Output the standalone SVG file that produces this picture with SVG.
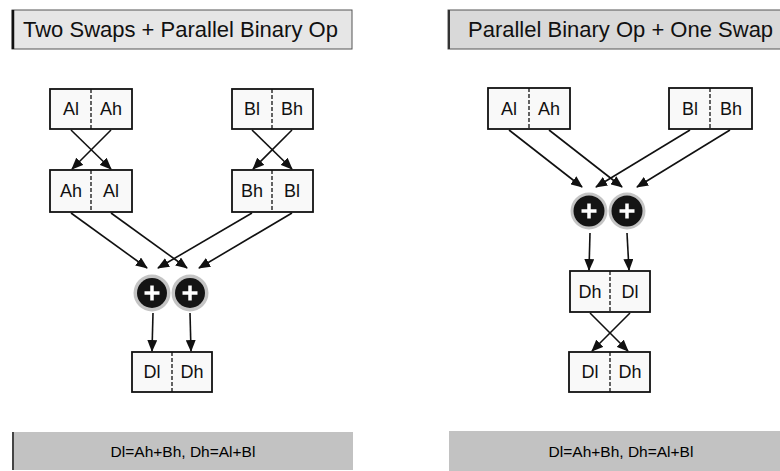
<svg xmlns="http://www.w3.org/2000/svg" width="780" height="471" viewBox="0 0 780 471">
  <style>
    text { font-family: "Liberation Sans", Arial, sans-serif; fill: #111; }
    .title { font-size: 22px; }
    .lbl { font-size: 18px; text-anchor: middle; }
    .note { font-size: 15.5px; text-anchor: middle; fill: #000; }
    .reg { fill: #f9f9f9; stroke: #111; stroke-width: 1.8; }
    .div { stroke: #111; stroke-width: 1.3; stroke-dasharray: 4 2; }
    .wire { stroke: #111; stroke-width: 1.6; fill: none; marker-end: url(#arrow); }
    .halo { fill: #c4c4c4; }
    .adder { fill: #141414; }
    .plus { stroke: #fff; stroke-width: 3.5; stroke-linecap: butt; }
    .hdr { stroke: #555; stroke-width: 1; }
    .band { fill: #c2c2c2; }
  </style>
  <defs>
    <marker id="arrow" markerUnits="userSpaceOnUse" markerWidth="12" markerHeight="10" refX="11" refY="5" orient="auto">
      <path d="M0,0 L12,5 L0,10 z" fill="#111"/>
    </marker>
  </defs>
  <rect width="780" height="471" fill="#fff"/>

  <!-- headings -->
  <g id="title-left">
    <rect x="12" y="10" width="340" height="39" fill="#e6e6e6" class="hdr"/>
    <line x1="13" y1="10" x2="13" y2="49" stroke="#111" stroke-width="2.5"/>
    <text class="title" x="23" y="37">Two Swaps + Parallel Binary Op</text>
  </g>
  <g id="title-right">
    <rect x="448" y="10" width="344" height="39" fill="#d9d9d9" class="hdr"/>
    <line x1="449" y1="10" x2="449" y2="49" stroke="#333" stroke-width="2"/>
    <text class="title" x="468" y="37">Parallel Binary Op + One Swap</text>
  </g>

  <!-- left: register boxes -->
  <g id="L-A">
    <rect class="reg" x="50" y="89" width="82" height="40"/>
    <line class="div" x1="91" y1="89" x2="91" y2="129"/>
    <text class="lbl" x="71" y="115">Al</text>
    <text class="lbl" x="111" y="115">Ah</text>
  </g>
  <g id="L-B">
    <rect class="reg" x="232" y="89" width="81" height="40"/>
    <line class="div" x1="272" y1="89" x2="272" y2="129"/>
    <text class="lbl" x="252" y="115">Bl</text>
    <text class="lbl" x="292" y="115">Bh</text>
  </g>
  <g id="L-A-swapped">
    <rect class="reg" x="50" y="170" width="82" height="42"/>
    <line class="div" x1="91" y1="170" x2="91" y2="212"/>
    <text class="lbl" x="71" y="197">Ah</text>
    <text class="lbl" x="111" y="197">Al</text>
  </g>
  <g id="L-B-swapped">
    <rect class="reg" x="232" y="170" width="81" height="42"/>
    <line class="div" x1="272" y1="170" x2="272" y2="212"/>
    <text class="lbl" x="252" y="197">Bh</text>
    <text class="lbl" x="292" y="197">Bl</text>
  </g>
  <g id="L-add-lo">
    <circle class="halo" cx="152" cy="293" r="18.5"/>
    <circle class="adder" cx="152" cy="293" r="15"/>
    <line class="plus" x1="144.5" y1="293" x2="159.5" y2="293"/>
    <line class="plus" x1="152" y1="285.5" x2="152" y2="300.5"/>
  </g>
  <g id="L-add-hi">
    <circle class="halo" cx="190" cy="293" r="18.5"/>
    <circle class="adder" cx="190" cy="293" r="15"/>
    <line class="plus" x1="182.5" y1="293" x2="197.5" y2="293"/>
    <line class="plus" x1="190" y1="285.5" x2="190" y2="300.5"/>
  </g>
  <g id="L-D">
    <rect class="reg" x="132" y="352" width="80" height="40"/>
    <line class="div" x1="172" y1="352" x2="172" y2="392"/>
    <text class="lbl" x="152" y="378">Dl</text>
    <text class="lbl" x="192" y="378">Dh</text>
  </g>
  <g id="L-note">
    <rect class="band" x="12" y="432" width="341" height="38"/>
    <line x1="13" y1="432" x2="13" y2="470" stroke="#444" stroke-width="2"/>
    <text class="note" x="183" y="457">Dl=Ah+Bh, Dh=Al+Bl</text>
  </g>

  <!-- right: register boxes -->
  <g id="R-A">
    <rect class="reg" x="488" y="88" width="82" height="41"/>
    <line class="div" x1="529" y1="88" x2="529" y2="129"/>
    <text class="lbl" x="509" y="115">Al</text>
    <text class="lbl" x="549" y="115">Ah</text>
  </g>
  <g id="R-B">
    <rect class="reg" x="669" y="88" width="83" height="41"/>
    <line class="div" x1="710" y1="88" x2="710" y2="129"/>
    <text class="lbl" x="690" y="115">Bl</text>
    <text class="lbl" x="731" y="115">Bh</text>
  </g>
  <g id="R-add-lo">
    <circle class="halo" cx="589" cy="211" r="18.5"/>
    <circle class="adder" cx="589" cy="211" r="15.5"/>
    <line class="plus" x1="581.5" y1="211" x2="596.5" y2="211"/>
    <line class="plus" x1="589" y1="203.5" x2="589" y2="218.5"/>
  </g>
  <g id="R-add-hi">
    <circle class="halo" cx="627" cy="211" r="18.5"/>
    <circle class="adder" cx="627" cy="211" r="15.5"/>
    <line class="plus" x1="619.5" y1="211" x2="634.5" y2="211"/>
    <line class="plus" x1="627" y1="203.5" x2="627" y2="218.5"/>
  </g>
  <g id="R-D-sum">
    <rect class="reg" x="570" y="271" width="80" height="41"/>
    <line class="div" x1="610" y1="271" x2="610" y2="312"/>
    <text class="lbl" x="590" y="298">Dh</text>
    <text class="lbl" x="630" y="298">Dl</text>
  </g>
  <g id="R-D">
    <rect class="reg" x="569" y="352" width="81" height="40"/>
    <line class="div" x1="610" y1="352" x2="610" y2="392"/>
    <text class="lbl" x="590" y="378">Dl</text>
    <text class="lbl" x="630" y="378">Dh</text>
  </g>
  <g id="R-note">
    <rect class="band" x="449" y="431" width="343" height="40"/>
    <text class="note" x="621" y="457">Dl=Ah+Bh, Dh=Al+Bl</text>
  </g>

  <!-- connectors -->
  <g id="connectors">
    <line class="wire" x1="71" y1="130" x2="111" y2="169"/>
    <line class="wire" x1="111" y1="130" x2="72" y2="169"/>
    <line class="wire" x1="252" y1="130" x2="292" y2="169"/>
    <line class="wire" x1="292" y1="130" x2="253" y2="169"/>

    <line class="wire" x1="71" y1="213" x2="147" y2="268"/>
    <line class="wire" x1="111" y1="213" x2="187" y2="268"/>
    <line class="wire" x1="252" y1="213" x2="158" y2="268"/>
    <line class="wire" x1="292" y1="213" x2="199" y2="268"/>

    <line class="wire" x1="153" y1="313" x2="152" y2="351"/>
    <line class="wire" x1="190" y1="313" x2="191" y2="351"/>

    <line class="wire" x1="509" y1="130" x2="582" y2="187"/>
    <line class="wire" x1="549" y1="130" x2="622" y2="187"/>
    <line class="wire" x1="690" y1="130" x2="596" y2="187"/>
    <line class="wire" x1="730" y1="130" x2="637" y2="187"/>

    <line class="wire" x1="590" y1="233" x2="589" y2="270"/>
    <line class="wire" x1="627" y1="233" x2="629" y2="270"/>

    <line class="wire" x1="590" y1="313" x2="628" y2="351"/>
    <line class="wire" x1="630" y1="313" x2="592" y2="351"/>
  </g>
</svg>
